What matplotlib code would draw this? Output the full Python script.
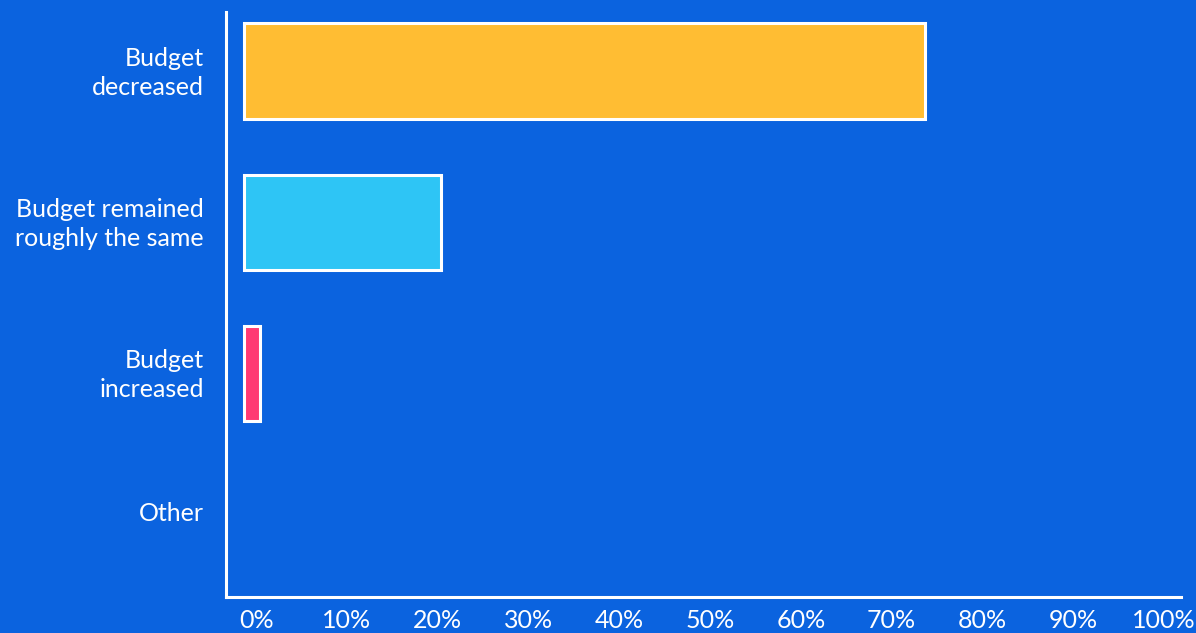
import matplotlib
matplotlib.use('Agg')
import matplotlib.pyplot as plt
import matplotlib.transforms as mtransforms

plt.rcParams['font.family'] = ['Lato', 'DejaVu Sans']

categories = ['Budget\ndecreased', 'Budget remained\nroughly the same', 'Budget\nincreased', 'Other']
values = [75, 21.7, 1.7, 0]
colors = ['#FFBD33', '#2EC5F5', '#FF3A73', '#FFFFFF']
xticks = list(range(0, 101, 10))
xtick_labels = ['%d%%' % t for t in xticks]

bg = '#0B63DF'
W, H = 1196, 633

fig = plt.figure(figsize=(W / 100, H / 100), dpi=100, facecolor=bg)
ax = fig.add_axes([226 / W, 1 - 597 / H, (1181 - 226) / W, (597 - 12) / H])
ax.set_facecolor(bg)

ypos = list(range(len(categories)))
for y, v, c in zip(ypos, values, colors):
    if v > 0:
        ax.barh(y, v, height=0.63, color=c, edgecolor='white', linewidth=2.2)

ax.set_xlim(-2.0, 103.2)
ax.set_ylim(3.48, -0.39)

ax.set_yticks(ypos)
ax.set_yticklabels(categories, fontsize=18, color='white', ha='right', linespacing=1.3)
ax.set_xticks(xticks)
ax.set_xticklabels(xtick_labels, fontsize=18, color='white')
ax.tick_params(axis='both', length=0)
ax.tick_params(axis='y', pad=16)
ax.tick_params(axis='x', pad=9)

# nudge the percent labels a little to the right
shift = mtransforms.ScaledTranslation(12 / 100, 0, fig.dpi_scale_trans)
for lbl in ax.get_xticklabels():
    lbl.set_transform(lbl.get_transform() + shift)

# category labels sit slightly above the bar centres, "Other" more so
for i, lbl in enumerate(ax.get_yticklabels()):
    dy = 13 if i == len(categories) - 1 else 3
    up = mtransforms.ScaledTranslation(0, dy / 100, fig.dpi_scale_trans)
    lbl.set_transform(lbl.get_transform() + up)

for side in ['top', 'right']:
    ax.spines[side].set_visible(False)
for side in ['left', 'bottom']:
    ax.spines[side].set_color('white')
    ax.spines[side].set_linewidth(2.2)

fig.savefig('out.png', dpi=100, facecolor=bg)
